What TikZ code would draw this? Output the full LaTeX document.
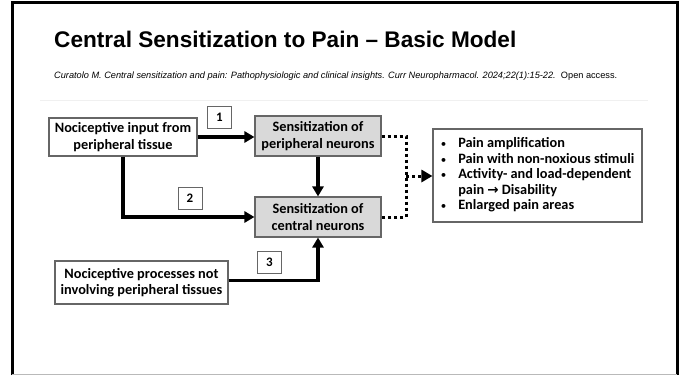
\documentclass[tikz,border=0pt]{standalone}
\usepackage{fontspec}
\setmainfont{Carlito}
\newfontfamily\arialfont{Liberation Sans}
\newfontfamily\symbfont{DejaVu Sans}
\usetikzlibrary{arrows.meta,positioning}

\newcommand{\listdot}{{\mdseries\fontsize{11}{12}\selectfont\textbullet}}

\tikzset{
  box/.style={draw=gray!80!black, line width=1.1pt, fill=white, align=center,
    inner sep=2pt, font=\bfseries\fontsize{14.3}{16.5}\selectfont},
  sensbox/.style={box, fill=gray!30},
  numbox/.style={draw=gray!80!black, line width=1pt, fill=white,
    minimum width=24pt, minimum height=22pt, font=\bfseries\fontsize{13}{14}\selectfont},
  flow/.style={line width=3.5pt, -{Triangle[length=10pt,width=11pt]}},
  dots/.style={line width=3pt, dash pattern=on 3pt off 3pt},
}

\begin{document}
\begin{tikzpicture}[x=1pt,y=-1pt]
   \useasboundingbox (0,0) rectangle (683,375);
   % frame and header
   \draw[line width=3pt] (12,375) -- (12,2) -- (677,2) -- (677,375);
   \draw[gray!55, line width=1pt] (12,374) -- (677,374);
   \draw[gray!12, line width=1pt] (40,100) -- (648,100);
   \node[anchor=base west, inner sep=0, font=\arialfont\bfseries\fontsize{22.6}{26}\selectfont] (title) at (54,47)
      {Central Sensitization to Pain – Basic Model};
   \node[anchor=base west, inner sep=0, font=\arialfont\fontsize{9.2}{10}\selectfont] (cite) at (54,78)
      {\itshape Curatolo M. Central sensitization and pain: Pathophysiologic and clinical insights. Curr Neuropharmacol. 2024;22(1):15-22.\upshape\ \ Open access.};

   % boxes
   \node[box, minimum width=148pt, minimum height=38pt] (input) at (123,137)
      {Nociceptive input from\\peripheral tissue};
   \node[sensbox, minimum width=126pt, minimum height=40pt] (periph) at (318,136)
      {Sensitization of\\peripheral neurons};
   \node[sensbox, minimum width=126pt, minimum height=40pt] (central) at (318,217)
      {Sensitization of\\central neurons};
   \node[box, minimum width=173pt, minimum height=43pt] (other) at (141.5,282.5)
      {Nociceptive processes not\\involving peripheral tissues};
   \node[box, minimum width=209pt, minimum height=93pt, align=left] (effects) at (537.5,175.5)
      {\begin{tabular}{@{}l@{\hspace{12pt}}l@{}}
        \listdot & Pain amplification\\[-1pt]
        \listdot & Pain with non-noxious stimuli\\[-1pt]
        \listdot & Activity- and load-dependent\\[-1pt]
                 & pain {\symbfont\bfseries\fontsize{13.5}{14}\selectfont →} Disability\\[-1pt]
        \listdot & Enlarged pain areas
       \end{tabular}};

   % pathway numbers
   \node[numbox] (n1) at (219.5,117.5) {1};
   \node[numbox] (n2) at (190,198) {2};
   \node[numbox] (n3) at (269.5,262) {3};

   % connectors
   \draw[flow] (input.east) -- (input.east -| periph.west);
   \draw[flow] (input.south) |- (central.west);
   \draw[flow] (periph) -- (central);
   \draw[flow] ([yshift=2pt]other.east) -| (central.south);
   \coordinate (join) at (406,176);
   \draw[dots] (periph.east) -- (periph.east -| join) -- (central.east -| join) -- (central.east);
   \draw[dots, -{Triangle[length=11pt,width=12pt]}] (join) -- (effects.west |- join);
\end{tikzpicture}
\end{document}
